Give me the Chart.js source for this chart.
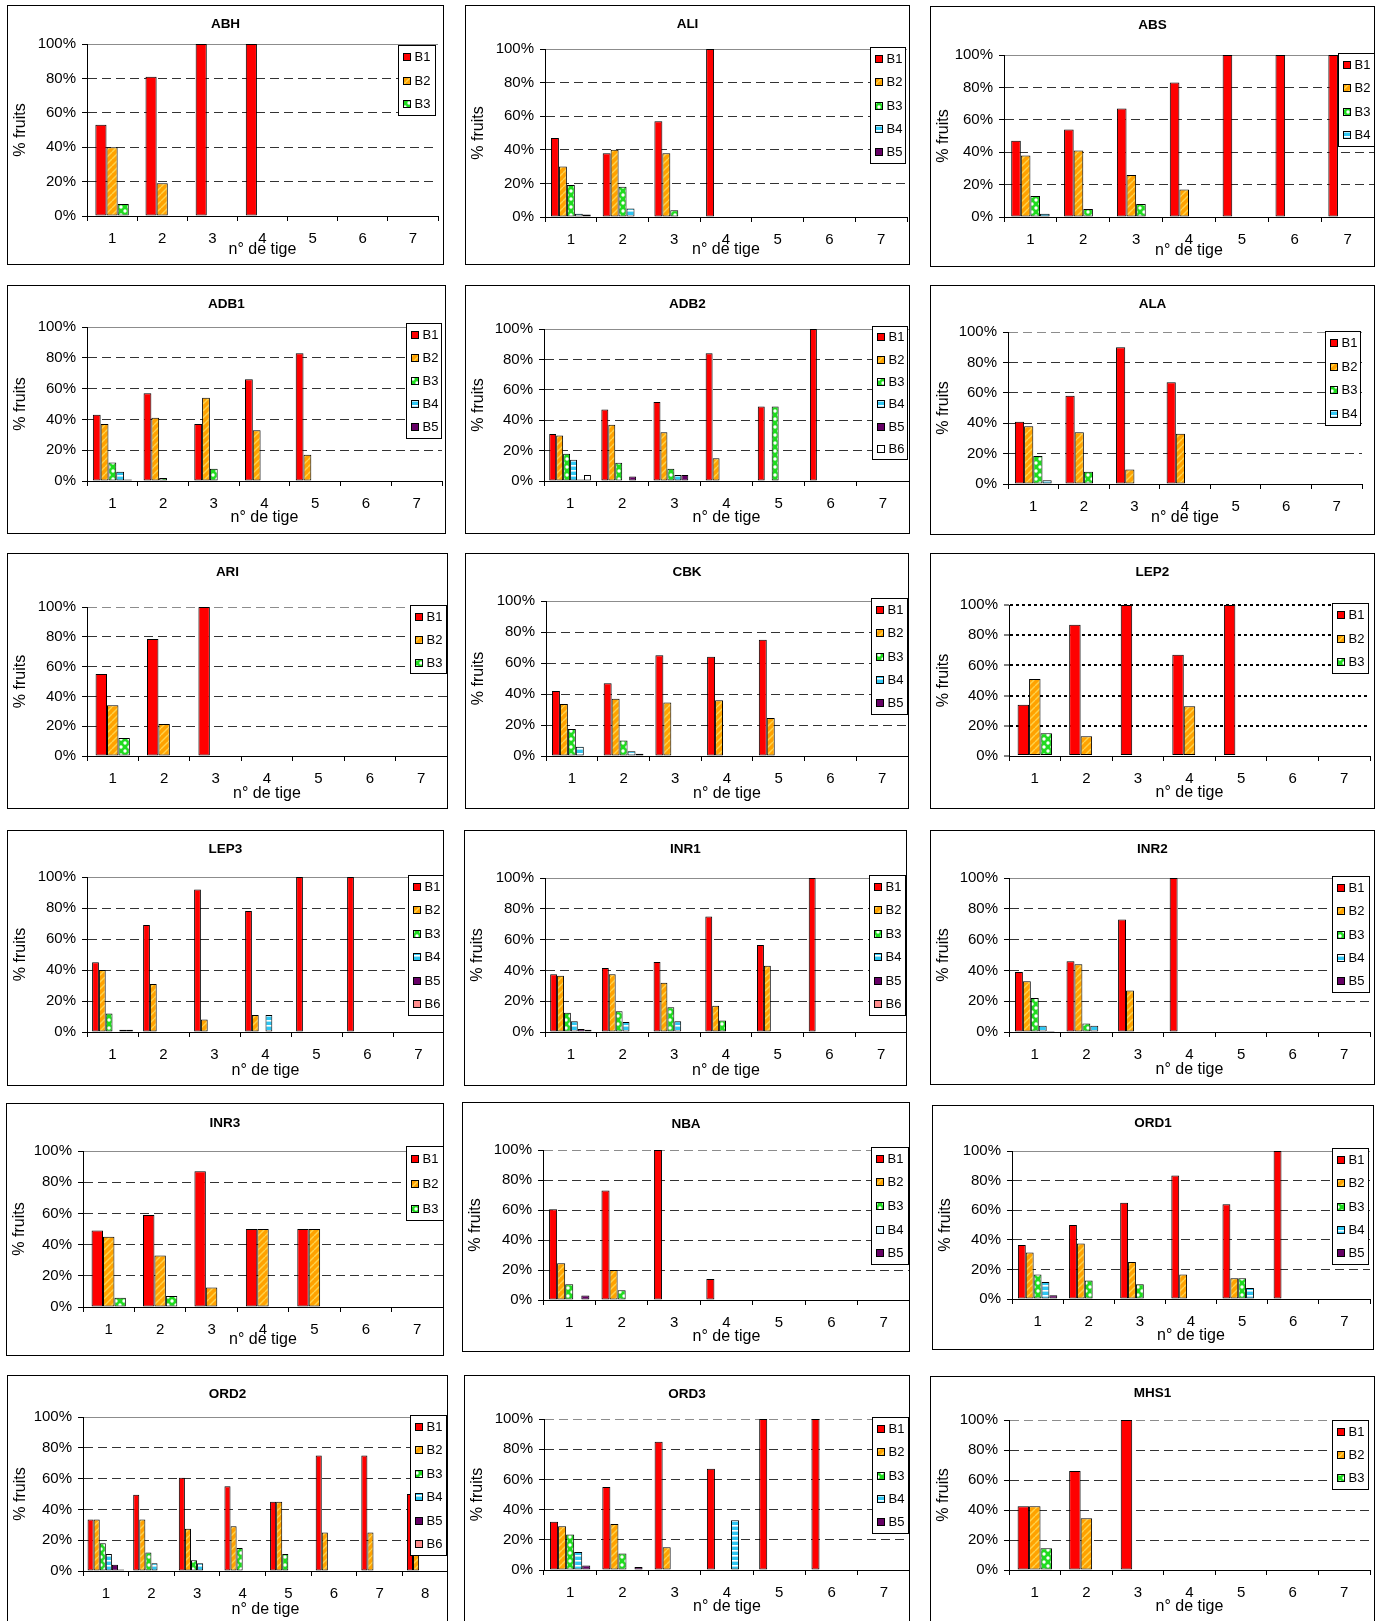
<!DOCTYPE html>
<html lang="fr">
<head>
<meta charset="utf-8">
<title>% fruits par n° de tige</title>
<script src="https://cdn.jsdelivr.net/npm/chart.js@4.4.1/dist/chart.umd.min.js"></script>
<style>
  html, body { margin: 0; padding: 0; background: #fff; }
  body { width: 1380px; height: 1621px; overflow: hidden; position: relative; }
  canvas.panel { position: absolute; outline: 1px solid #000; outline-offset: -1px; }
</style>
</head>
<body>
<script>
// ---- categories and series names ----
const stems7 = ['1', '2', '3', '4', '5', '6', '7'];
const stems8 = ['1', '2', '3', '4', '5', '6', '7', '8'];
const branchNames = ['B1', 'B2', 'B3', 'B4', 'B5', 'B6'];

// ---- % of fruits per stem number; one row per branch level (B1, B2, ...) ----
const ABH  = [[53, 81, 100, 100], [40, 19], [7]];
const ALI  = [[47, 38, 57, 100], [30, 40, 38], [19, 18, 4], [2, 5], [1.5]];
const ABS  = [[47, 54, 67, 83, 100, 100, 100], [38, 41, 26, 17], [13, 5, 8], [2]];
const ADB1 = [[43, 57, 37, 66, 83], [37, 41, 54, 33, 17], [12, 2, 8], [6], [1]];
const ADB2 = [[31, 47, 52, 84, 49, 100], [30, 37, 32, 15], [18, 12, 8, null, 49], [14, null, 4], [1, 3, 4], [4]];
const ALA  = [[41, 58, 90, 67], [38, 34, 9.5, 33], [18.5, 8], [2.4]];
const ARI  = [[55, 78.5, 100], [34, 21.5], [12]];
const CBK  = [[42, 47, 65, 64, 75], [33.5, 37, 34.5, 36, 24.5], [17.5, 10], [6, 3], [null, 1.5]];
const LEP2 = [[34, 87, 100, 67, 100], [51, 13, null, 33], [15]];
const LEP3 = [[45, 69, 92, 78, 100, 100], [40, 31, 8, 11], [12], [null, null, null, 11], [1.5], [1.5]];
const INR1 = [[37.5, 41.5, 45.5, 75, 56.5, 100], [36.5, 37.5, 32, 17, 43], [12.5, 13.5, 16, 7.5], [7, 6.5, 7], [2], [1.5]];
const INR2 = [[39, 46, 73, 100], [33, 44, 27], [22, 5.5], [4, 4], [0.7]];
const INR3 = [[49, 59, 87, 50, 50], [45, 33, 12.5, 50, 50], [6, 7]];
const NBA  = [[60.5, 73, 100, 14], [24.5, 20], [10.5, 6.5], [], [3]];
const ORD1 = [[36.5, 50, 65, 83.5, 64, 100], [31.5, 37.5, 25, 16.5, 14], [16.5, 12.5, 10, null, 14], [11.5, null, null, null, 7.5], [2.5]];
const ORD2 = [[33.5, 49.5, 60.5, 55, 45, 75, 75, 50], [33.5, 33.5, 27.5, 29, 45, 25, 25, 12], [18, 12, 7, 15, 11], [11, 5, 5], [4], [1]];
const ORD3 = [[32, 55, 85, 67, 100, 100], [29, 30.5, 15], [23.5, 11], [12, null, null, 33], [3, 2]];
const MHS1 = [[42.5, 66, 100], [42.5, 34.5], [14.5]];

// ---- sheet geometry (drafted in 1335-unit sheet coordinates, scaled to the page) ----
const UNIT = 1380 / 1335;
const panels = [
  { title: 'ABH',  rows: ABH,  stems: stems7, box: [7, 5, 423, 251],        plot: [84, 43, 424, 209],          legend: [385, 44, 422, 113],          titleY: 23.5,   xTitle: 34, top: 'solid' },
  { title: 'ALI',  rows: ALI,  stems: stems7, box: [450, 5, 430, 251],      plot: [527, 47.5, 877, 210],       legend: [842, 45, 877, 158],          titleY: 23.5,   xTitle: 33, top: 'solid' },
  { title: 'ABS',  rows: ABS,  stems: stems7, box: [899.5, 6, 430.5, 252],  plot: [971.5, 53.5, 1329, 210],    legend: [1294, 51, 1329.5, 142],      titleY: 24.5,   xTitle: 34, top: 'solid' },
  { title: 'ADB1', rows: ADB1, stems: stems7, box: [7, 276, 424, 241],      plot: [84.5, 316, 428, 465.3],     legend: [393, 312.5, 428, 425],       titleY: 294.5,  xTitle: 37, top: 'solid' },
  { title: 'ADB2', rows: ADB2, stems: stems7, box: [450, 276, 430, 241],    plot: [526.5, 318.6, 879, 465.3],  legend: [844, 315, 879, 445],         titleY: 294.5,  xTitle: 37, top: 'solid', swatch: { 5: '#ffffff' } },
  { title: 'ALA',  rows: ALA,  stems: stems7, box: [900, 276, 430, 241.5],  plot: [974.8, 321.5, 1318, 468.5], legend: [1282, 320, 1317, 412],       titleY: 294.5,  xTitle: 34, top: 'dash' },
  { title: 'ARI',  rows: ARI,  stems: stems7, box: [7, 535, 426, 248],      plot: [84.5, 587, 432, 731.7],     legend: [397, 585, 432.5, 652],       titleY: 553.5,  xTitle: 38, top: 'dash' },
  { title: 'CBK',  rows: CBK,  stems: stems7, box: [450, 535, 429, 248],    plot: [528, 581.7, 878, 731.7],    legend: [843, 578.5, 879, 692],       titleY: 553.5,  xTitle: 38, top: 'solid' },
  { title: 'LEP2', rows: LEP2, stems: stems7, box: [899.5, 535, 430.5, 248],plot: [976.5, 585, 1325, 731.4],   legend: [1289, 583.3, 1324.5, 651.7], titleY: 553.5,  xTitle: 37, top: 'dot' },
  { title: 'LEP3', rows: LEP3, stems: stems7, box: [7, 803, 423, 248],      plot: [84.5, 848.7, 430, 998],     legend: [394.3, 846, 429.6, 982],     titleY: 821.5,  xTitle: 39, top: 'solid' },
  { title: 'INR1', rows: INR1, stems: stems7, box: [449, 803, 428, 248],    plot: [527.5, 849.5, 877, 998.5],  legend: [841, 846.5, 876.5, 983],     titleY: 821.5,  xTitle: 39, top: 'solid' },
  { title: 'INR2', rows: INR2, stems: stems7, box: [899.5, 803, 430.5, 247],plot: [976, 849.7, 1325, 998.7],   legend: [1289, 847, 1325.3, 960.3],   titleY: 821.5,  xTitle: 38, top: 'solid' },
  { title: 'INR3', rows: INR3, stems: stems7, box: [6, 1067.5, 424, 244],   plot: [80.5, 1113.8, 429, 1264.7], legend: [393, 1109, 429.6, 1181.8],   titleY: 1086.5, xTitle: 33, top: 'solid' },
  { title: 'NBA',  rows: NBA,  stems: stems7, box: [447, 1066, 433.5, 242], plot: [525.5, 1112.2, 880, 1258],  legend: [843, 1110, 879.5, 1224],     titleY: 1087.5, xTitle: 37, top: 'dash', swatch: { 3: '#d8f6ff' } },
  { title: 'ORD1', rows: ORD1, stems: stems7, box: [902, 1069, 427, 237],   plot: [978.8, 1113.8, 1325, 1256.7], legend: [1289, 1110.2, 1324.7, 1223.1], titleY: 1086.5, xTitle: 37, top: 'solid' },
  { title: 'ORD2', rows: ORD2, stems: stems8, box: [7, 1330, 426, 262],     plot: [80.5, 1371, 433, 1520],     legend: [397, 1369, 433, 1505],       titleY: 1349,   xTitle: 39, top: 'solid' },
  { title: 'ORD3', rows: ORD3, stems: stems7, box: [449, 1330, 431, 262],   plot: [526, 1372.7, 880, 1519],    legend: [844, 1370.5, 879.5, 1483.5], titleY: 1349,   xTitle: 37, top: 'dash' },
  { title: 'MHS1', rows: MHS1, stems: stems7, box: [899.5, 1331.5, 430.5, 262], plot: [976.4, 1374, 1325, 1519], legend: [1289, 1373.7, 1324.7, 1441.4], titleY: 1348, xTitle: 37, top: 'dash' }
];

// ---- fills: plain and patterned bar styles ----
function tile(size, paint) {
  const c = document.createElement('canvas');
  c.width = c.height = size;
  const g = c.getContext('2d');
  paint(g, size);
  return g.createPattern(c, 'repeat');
}
const fills = [
  '#ff0000',
  tile(7, (g, s) => {
    g.fillStyle = '#ffa200'; g.fillRect(0, 0, s, s);
    g.strokeStyle = '#ffd24a'; g.lineWidth = 1.4;
    for (let k = -s; k <= s; k += s) { g.beginPath(); g.moveTo(k, s); g.lineTo(k + s, 0); g.stroke(); }
  }),
  tile(8, (g, s) => {
    g.fillStyle = '#1fdc1f'; g.fillRect(0, 0, s, s);
    g.fillStyle = '#ffffff';
    [[2, 2], [6, 6]].forEach(([x, y]) => { g.beginPath(); g.arc(x, y, 1.7, 0, Math.PI * 2); g.fill(); });
  }),
  tile(5, (g, s) => {
    g.fillStyle = '#2fc6f2'; g.fillRect(0, 0, s, s);
    g.fillStyle = '#ffffff'; g.fillRect(0, 0, s, 1.6);
  }),
  '#660066',
  '#ff8c8c'
];

const FONT = '"Liberation Sans", Arial, Helvetica, sans-serif';
Chart.defaults.font.family = FONT;
Chart.defaults.color = '#000';

// title and boxed legend painted over each panel
const panelDecor = {
  id: 'panelDecor',
  afterDraw(chart, args, opts) {
    const ctx = chart.ctx;
    ctx.save();
    ctx.fillStyle = '#000';
    ctx.font = 'bold 13.5px ' + FONT;
    ctx.textAlign = 'center';
    ctx.textBaseline = 'middle';
    ctx.fillText(opts.title, chart.width / 2, opts.titleY);

    const lg = opts.legend;
    ctx.fillStyle = '#fff';
    ctx.fillRect(lg.x, lg.y, lg.w, lg.h);
    ctx.strokeStyle = '#000';
    ctx.lineWidth = 1;
    ctx.strokeRect(lg.x + 0.5, lg.y + 0.5, lg.w - 1, lg.h - 1);
    const n = chart.data.datasets.length;
    ctx.font = '13px ' + FONT;
    ctx.textAlign = 'left';
    chart.data.datasets.forEach((ds, i) => {
      const cy = Math.round(lg.y + lg.h * (i + 0.5) / n);
      const sx = Math.round(lg.x + 5);
      ctx.fillStyle = ds.backgroundColor;
      ctx.fillRect(sx, cy - 4, 8, 8);
      ctx.strokeRect(sx + 0.5, cy - 3.5, 7, 7);
      ctx.fillStyle = '#000';
      ctx.fillText(ds.label, lg.x + 16.5, cy + 0.5);
    });
    ctx.restore();
  }
};

panels.forEach(p => {
  const bx = Math.round(p.box[0] * UNIT), by = Math.round(p.box[1] * UNIT);
  const W = Math.round((p.box[0] + p.box[2]) * UNIT) - bx;
  const H = Math.round((p.box[1] + p.box[3]) * UNIT) - by;
  const L = Math.round(p.plot[0] * UNIT) - bx;
  const T = Math.round(p.plot[1] * UNIT) - by;
  const R = Math.round(p.plot[2] * UNIT) - bx;
  const B = Math.round(p.plot[3] * UNIT) - by;
  const lx = p.legend[0] * UNIT - bx, ly = p.legend[1] * UNIT - by;
  const legend = { x: Math.round(lx), y: Math.round(ly),
                   w: Math.round((p.legend[2] - p.legend[0]) * UNIT), h: Math.round((p.legend[3] - p.legend[1]) * UNIT) };

  const canvas = document.createElement('canvas');
  canvas.className = 'panel';
  canvas.width = W; canvas.height = H;
  canvas.style.left = bx + 'px'; canvas.style.top = by + 'px';
  canvas.style.width = W + 'px'; canvas.style.height = H + 'px';
  document.body.appendChild(canvas);

  const n = p.rows.length;
  const swatch = p.swatch || {};
  const datasets = p.rows.map((row, k) => ({
    label: branchNames[k],
    data: p.stems.map((_, j) => (row[j] === undefined ? null : row[j])),
    backgroundColor: swatch[k] || fills[k],
    borderColor: '#000',
    borderWidth: 1,
    borderSkipped: false,
    categoryPercentage: n / (n + 1.5),
    barPercentage: 1
  }));

  const dotted = p.top === 'dot';
  const innerDash = dotted ? [3, 3] : [9, 5];
  const innerColor = dotted ? '#000' : '#333';
  const topColor = dotted ? '#000' : '#8c8c8c';
  const topDash = p.top === 'solid' ? [] : innerDash;

  const tickFont = { size: 15 };
  const axisFont = { size: 16 };

  new Chart(canvas, {
    type: 'bar',
    data: { labels: p.stems, datasets },
    options: {
      responsive: false,
      animation: false,
      devicePixelRatio: 1,
      events: [],
      layout: { autoPadding: false, padding: { left: 0, top: T, right: W - R, bottom: 0 } },
      plugins: {
        legend: { display: false },
        title: { display: false },
        tooltip: { enabled: false },
        panelDecor: { title: p.title, titleY: p.titleY * UNIT - by, legend }
      },
      scales: {
        x: {
          offset: true,
          grid: { offset: true, display: true, drawOnChartArea: false, drawTicks: true,
                  tickLength: 5, tickWidth: 1, tickColor: '#000', color: '#000' },
          border: { display: true, color: '#000', width: 1 },
          ticks: { padding: 9, maxRotation: 0, autoSkip: false, font: tickFont, color: '#000' },
          title: { display: true, text: 'n° de tige', font: axisFont, color: '#000',
                   padding: { top: 0, bottom: H - B - p.xTitle - 9.6 } },
          afterFit: s => { s.height = H - B; }
        },
        y: {
          min: 0, max: 100,
          ticks: { stepSize: 20, padding: 6, font: tickFont, color: '#000', callback: v => v + '%' },
          grid: {
            drawOnChartArea: true, drawTicks: true, tickLength: 5, tickWidth: 1, tickColor: '#000',
            lineWidth: dotted ? 2 : 1,
            color: c => {
              if (!c.tick) return innerColor;
              if (c.tick.value === 0) return 'rgba(0,0,0,0)';
              return c.tick.value === 100 ? topColor : innerColor;
            }
          },
          border: {
            display: true, color: '#000', width: 1,
            dash: c => (c.tick && c.tick.value === 100) ? topDash : innerDash
          },
          title: { display: true, text: '% fruits', font: axisFont, color: '#000',
                   padding: { top: 4.4, bottom: 0 } },
          afterFit: s => { s.width = L; }
        }
      }
    },
    plugins: [panelDecor]
  });
});
</script>
</body>
</html>
